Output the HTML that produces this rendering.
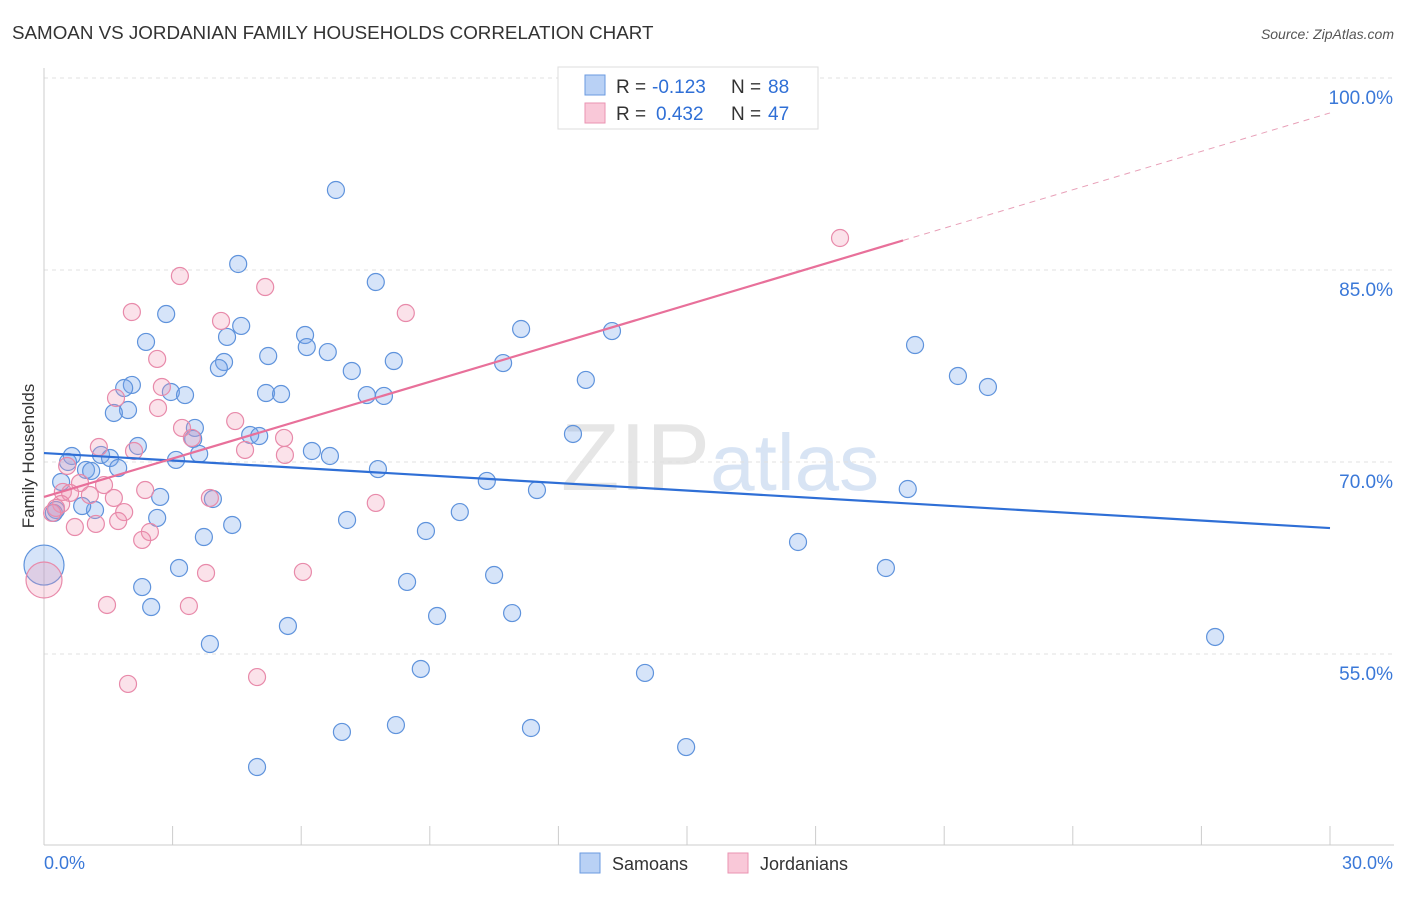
<!DOCTYPE html>
<html><head><meta charset="utf-8"><style>
body{margin:0;background:#fff;font-family:"Liberation Sans",sans-serif;}
svg text{font-family:"Liberation Sans",sans-serif;}
</style></head><body>
<svg id="chart" width="1406" height="892" xmlns="http://www.w3.org/2000/svg">
<text x="12" y="39" font-size="18.8" fill="#333">SAMOAN VS JORDANIAN FAMILY HOUSEHOLDS CORRELATION CHART</text>
<text x="1394" y="39" font-size="14" fill="#555" text-anchor="end" font-style="italic">Source: ZipAtlas.com</text>
<text x="720" y="490" font-size="96" fill="#e6e6e6" text-anchor="middle" font-family="Liberation Serif">ZIP<tspan fill="#d8e4f4" font-family="Liberation Sans" font-size="80">atlas</tspan></text>
<g id="grid"></g>
<g id="axes"></g>
<g id="marks"></g>
<text transform="translate(34,456) rotate(-90)" font-size="17" fill="#333" text-anchor="middle">Family Households</text>
<g>
<rect x="558" y="67" width="260" height="62" fill="#fff" stroke="#ddd"/>
<rect x="585" y="75" width="20" height="20" fill="#b9d1f5" stroke="#6a9ae0"/>
<rect x="585" y="103" width="20" height="20" fill="#f9c8d8" stroke="#ea93b2"/>
<text x="616" y="93" font-size="19" fill="#333">R =</text>
<text x="652" y="93" font-size="19" fill="#2f6fd6">-0.123</text>
<text x="731" y="93" font-size="19" fill="#333">N =</text>
<text x="768" y="93" font-size="19" fill="#2f6fd6">88</text>
<text x="616" y="120" font-size="19" fill="#333">R =</text>
<text x="656" y="120" font-size="19" fill="#2f6fd6">0.432</text>
<text x="731" y="120" font-size="19" fill="#333">N =</text>
<text x="768" y="120" font-size="19" fill="#2f6fd6">47</text>
</g>
<g>
<rect x="580" y="853" width="20" height="20" fill="#b9d1f5" stroke="#6a9ae0"/>
<text x="612" y="870" font-size="18" fill="#333">Samoans</text>
<rect x="728" y="853" width="20" height="20" fill="#f9c8d8" stroke="#ea93b2"/>
<text x="760" y="870" font-size="18" fill="#333">Jordanians</text>
</g>
</svg>
<script>
const blueX=[6.81,4.53,7.74,2.85,4.60,4.27,2.38,6.09,6.13,6.62,11.13,13.25,5.23,4.20,4.08,7.18,8.16,2.05,1.87,2.96,3.29,5.18,5.53,7.53,7.93,12.64,10.71,1.96,1.63,20.32,21.32,22.02,3.52,2.19,3.48,4.81,5.02,12.34,0.65,0.56,1.33,1.54,3.08,3.62,6.25,6.67,1.73,0.98,1.10,7.79,10.33,11.50,20.15,0.40,2.71,3.94,0.28,0.23,1.19,0.89,2.64,7.07,4.39,9.70,8.91,3.73,17.59,3.15,19.64,10.50,2.29,8.47,2.50,10.92,9.17,5.69,3.87,27.32,8.79,14.02,6.95,8.21,11.36,14.98,4.97];
const blueY=[91.25,85.47,84.06,81.56,80.63,79.77,79.38,79.92,78.98,78.59,80.39,80.23,78.28,77.81,77.34,77.11,77.89,76.02,75.78,75.47,75.23,75.39,75.31,75.23,75.16,76.41,77.73,74.06,73.83,79.14,76.72,75.86,72.66,71.25,71.80,72.11,72.03,72.19,70.47,70.0,70.55,70.31,70.16,70.63,70.86,70.47,69.53,69.38,69.30,69.45,68.52,67.81,67.89,68.44,67.27,67.11,66.25,66.02,66.25,66.56,65.63,65.47,65.08,66.09,64.61,64.14,63.75,61.72,61.72,61.17,60.23,60.63,58.67,58.20,57.97,57.19,55.78,56.33,53.83,53.52,48.91,49.45,49.22,47.73,46.17];
const pinkX=[18.57,3.17,5.16,2.05,8.44,4.13,2.64,2.75,1.68,2.66,4.46,3.22,3.45,5.60,1.28,2.10,4.69,5.62,0.54,0.84,1.40,2.36,1.63,3.87,1.07,0.44,0.61,0.40,7.74,0.28,0.19,1.87,1.73,1.21,0.72,2.47,2.29,3.78,6.04,1.47,3.38,1.96,4.97];
const pinkY=[87.5,84.53,83.67,81.72,81.64,81.02,78.05,75.86,75.0,74.22,73.2,72.66,71.88,71.88,71.17,70.86,70.94,70.55,69.69,68.36,68.20,67.81,67.19,67.19,67.42,67.66,67.58,66.72,66.80,66.41,66.02,66.09,65.39,65.16,64.92,64.53,63.91,61.33,61.41,58.83,58.75,52.66,53.2];
const bigBlue=[0,61.95], bigPink=[0,60.78];
const yTicks=[55,70,85,100];
const yTickLabels=["55.0%","70.0%","85.0%","100.0%"];
const xTicks=[0,3,6,9,12,15,18,21,24,27,30];
const blueLine=[70.7,64.84];
const pinkLine=[67.27,1.0,20.04];

const NS="http://www.w3.org/2000/svg";
const sx=v=>44+v*(1286/30);
const sy=v=>78+(100-v)*12.8;
function mk(tag,attrs,parent){const e=document.createElementNS(NS,tag);for(const k in attrs)e.setAttribute(k,attrs[k]);parent.appendChild(e);return e;}
const grid=document.getElementById('grid'),axes=document.getElementById('axes'),marks=document.getElementById('marks');
yTicks.forEach((t,i)=>{
  const l=mk('line',{x1:44,x2:1394,y1:sy(t),y2:sy(t),stroke:'#e0e0e0','stroke-dasharray':'4,4'},grid);
  
  
  const tx=mk('text',{x:1393,y:sy(t)+26,'font-size':19,fill:'#3a78d8','text-anchor':'end'},axes);
  tx.textContent=yTickLabels[i];
  
  
});
const ax=mk('line',{x1:44,x2:44,y1:68,y2:845,stroke:'#ccc'},axes);


const bx=mk('line',{x1:44,x2:1394,y1:845,y2:845,stroke:'#ccc'},axes);


xTicks.forEach(t=>{
  const l=mk('line',{x1:sx(t),x2:sx(t),y1:826,y2:845,stroke:'#ccc'},axes);
  
  
});
const xl0=mk('text',{x:44,y:869,'font-size':18,fill:'#3a78d8'},axes);xl0.textContent='0.0%';


const xl1=mk('text',{x:1393,y:869,'font-size':18,fill:'#3a78d8','text-anchor':'end'},axes);xl1.textContent='30.0%';



function dot(x,y,r,fill,stroke,name){
  const c=mk('circle',{cx:sx(x),cy:sy(y),r:r,fill:fill,stroke:stroke,'stroke-width':1.2},marks);
  
  
}
const bf='rgba(120,165,235,0.3)',bs='#5f93dc',pf='rgba(240,150,180,0.28)',ps='#e88aaa';
dot(bigBlue[0],bigBlue[1],20,bf,bs,'samoan-point-large');
dot(bigPink[0],bigPink[1],18,pf,ps,'jordanian-point-large');
blueX.forEach((x,i)=>dot(x,blueY[i],8.5,bf,bs,'samoan-point'));
pinkX.forEach((x,i)=>dot(x,pinkY[i],8.5,pf,ps,'jordanian-point'));
const bl=mk('line',{x1:sx(0),y1:sy(blueLine[0]),x2:sx(30),y2:sy(blueLine[1]),stroke:'#2f6fd6','stroke-width':2.2},marks);


const pe=pinkLine[2];
const pl=mk('line',{x1:sx(0),y1:sy(pinkLine[0]),x2:sx(pe),y2:sy(pinkLine[0]+pinkLine[1]*pe),stroke:'#e8709a','stroke-width':2.2},marks);


const pd=mk('line',{x1:sx(pe),y1:sy(pinkLine[0]+pinkLine[1]*pe),x2:sx(30),y2:sy(pinkLine[0]+pinkLine[1]*30),stroke:'#e8a0b8','stroke-width':1,'stroke-dasharray':'6,5'},marks);


</script>
</body></html>
